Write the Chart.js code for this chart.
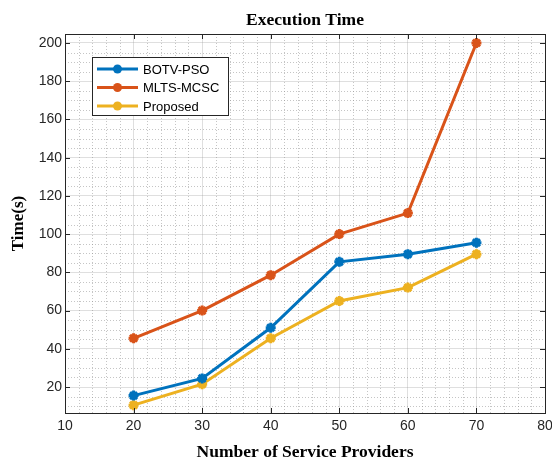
<!DOCTYPE html>
<html>
<head>
<meta charset="utf-8">
<script src="https://cdn.jsdelivr.net/npm/chart.js@4.4.1/dist/chart.umd.min.js"></script>
<style>
html,body{margin:0;padding:0;background:#fff;overflow:hidden;width:552px;height:460px;}
#wrap{width:560px;height:460px;}
canvas{display:block;}
</style>
</head>
<body>
<div id="wrap"><canvas id="c" width="560" height="460"></canvas></div>
<script>
// ---- data ----
const providers = [20, 30, 40, 50, 60, 70];
const botvPso = [15.5, 24.5, 51, 85.5, 89.5, 95.5];
const mltsMcsc = [45.5, 60, 78.5, 100, 111, 200];
const proposed = [10.5, 21.5, 45.5, 65, 72, 89.5];
const seriesNames = ['BOTV-PSO', 'MLTS-MCSC', 'Proposed'];
const xTicks = [10, 20, 30, 40, 50, 60, 70, 80];
const yTicks = [20, 40, 60, 80, 100, 120, 140, 160, 180, 200];

const colors = ['#0072BD', '#D95319', '#EDB120'];
const toPts = arr => arr.map((v, i) => ({x: providers[i], y: v}));

const axisColor = '#262626';

const frame = {
  id: 'frame',
  beforeDatasetsDraw(chart) {
    const {ctx, chartArea: a, scales: {x, y}} = chart;
    ctx.save();
    ctx.strokeStyle = 'rgba(140,140,140,0.5)';
    ctx.lineWidth = 1;
    ctx.setLineDash([1, 2]);
    for (let v = 10; v <= 80; v += 2) {
      if (v % 10 === 0) continue;
      const px = Math.round(x.getPixelForValue(v)) + 0.5;
      ctx.beginPath(); ctx.moveTo(px, a.top); ctx.lineTo(px, a.bottom); ctx.stroke();
    }
    for (let v = 10; v <= 205; v += 5) {
      if (v % 20 === 0) continue;
      const py = Math.round(y.getPixelForValue(v)) + 0.5;
      if (py < a.top || py > a.bottom) continue;
      ctx.beginPath(); ctx.moveTo(a.left, py); ctx.lineTo(a.right, py); ctx.stroke();
    }
    ctx.restore();
  },
  afterDatasetsDraw(chart) {
    const {ctx, chartArea: a, scales: {x, y}} = chart;
    ctx.save();
    ctx.strokeStyle = axisColor;
    ctx.lineWidth = 1;
    ctx.setLineDash([]);
    ctx.strokeRect(Math.round(a.left) + 0.5, Math.round(a.top) + 0.5, Math.round(a.right - a.left), Math.round(a.bottom - a.top));
    const tl = 5;
    xTicks.forEach(v => {
      const px = Math.round(x.getPixelForValue(v)) + 0.5;
      ctx.beginPath();
      ctx.moveTo(px, a.bottom); ctx.lineTo(px, a.bottom - tl);
      ctx.moveTo(px, a.top); ctx.lineTo(px, a.top + tl);
      ctx.stroke();
    });
    yTicks.forEach(v => {
      const py = Math.round(y.getPixelForValue(v)) + 0.5;
      ctx.beginPath();
      ctx.moveTo(a.left, py); ctx.lineTo(a.left + tl, py);
      ctx.moveTo(a.right, py); ctx.lineTo(a.right - tl, py);
      ctx.stroke();
    });
    // legend
    const lx = 92, ly = 57, lw = 136, lh = 58;
    ctx.fillStyle = '#fff';
    ctx.fillRect(lx, ly, lw, lh);
    ctx.strokeStyle = axisColor;
    ctx.strokeRect(lx + 0.5, ly + 0.5, lw, lh);
    ctx.font = '13px "Liberation Sans", Arial, sans-serif';
    ctx.textBaseline = 'middle';
    chart.data.datasets.forEach((ds, i) => {
      const cy = ly + 12 + i * 18.5;
      ctx.strokeStyle = ds.borderColor;
      ctx.lineWidth = 3;
      ctx.beginPath(); ctx.moveTo(lx + 5, cy); ctx.lineTo(lx + 46, cy); ctx.stroke();
      ctx.fillStyle = ds.borderColor;
      ctx.beginPath(); ctx.arc(lx + 25.5, cy, 4.5, 0, Math.PI * 2); ctx.fill();
      ctx.fillStyle = '#000';
      ctx.fillText(ds.label, lx + 51, cy + 1);
    });
    ctx.restore();
  }
};

new Chart(document.getElementById('c'), {
  type: 'line',
  data: {
    datasets: [botvPso, mltsMcsc, proposed].map((arr, i) => ({
      label: seriesNames[i],
      data: toPts(arr),
      borderColor: colors[i],
      backgroundColor: colors[i],
      borderWidth: 3,
      pointStyle: 'star',
      pointRadius: 5,
      pointBorderWidth: 3,
      pointBackgroundColor: colors[i],
      pointBorderColor: colors[i],
      tension: 0
    }))
  },
  options: {
    responsive: false,
    animation: false,
    layout: {padding: {left: 2, right: 15, top: 2, bottom: 0}},
    plugins: {
      legend: {display: false},
      tooltip: {enabled: false},
      title: {
        display: true,
        text: 'Execution Time',
        fullSize: false,
        color: '#000',
        font: {family: '"Liberation Serif", "Times New Roman", serif', size: 17.5, weight: 'bold'},
        padding: {top: 8, bottom: 3}
      }
    },
    scales: {
      x: {
        type: 'linear',
        min: 10, max: 80,
        afterBuildTicks(s) { s.ticks = xTicks.map(v => ({value: v})); },
        afterFit(s) { s.height = 47; },
        ticks: {color: axisColor, font: {family: '"Liberation Sans", Arial, sans-serif', size: 14}, padding: 5, maxRotation: 0},
        grid: {color: 'rgba(150,150,150,0.3)', drawTicks: false},
        border: {display: false},
        title: {display: true, text: 'Number of Service Providers', color: '#000',
          font: {family: '"Liberation Serif", "Times New Roman", serif', size: 17.5, weight: 'bold'}, padding: {top: 4, bottom: -2.5}}
      },
      y: {
        type: 'linear',
        min: 6.4, max: 204.7,
        afterBuildTicks(s) { s.ticks = yTicks.map(v => ({value: v})); },
        afterFit(s) { s.width = 63; },
        ticks: {color: axisColor, font: {family: '"Liberation Sans", Arial, sans-serif', size: 14}, padding: 3},
        grid: {color: 'rgba(150,150,150,0.3)', drawTicks: false},
        border: {display: false},
        title: {display: true, text: 'Time(s)', color: '#000',
          font: {family: '"Liberation Serif", "Times New Roman", serif', size: 17, weight: 'bold'}, padding: {top: 6, bottom: 4}}
      }
    }
  },
  plugins: [frame]
});
</script>
</body>
</html>
